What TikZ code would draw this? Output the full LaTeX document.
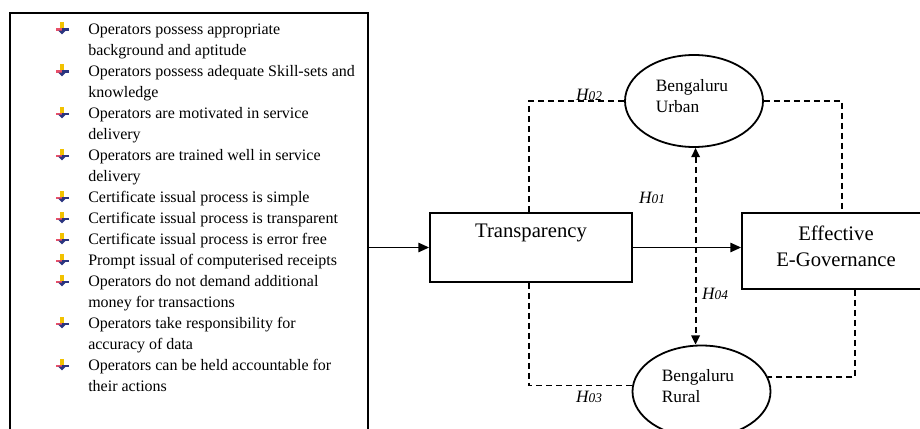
\documentclass[tikz,border=0pt]{standalone}
\usepackage{fontspec}
\setmainfont{Liberation Serif}
\usetikzlibrary{arrows.meta,shapes.geometric}
\definecolor{bulyellow}{HTML}{F2C200}
\definecolor{bulred}{HTML}{E8506A}
\definecolor{bulblue}{HTML}{2B3580}
\tikzset{
  boxline/.style={draw, line width=1.35pt, rectangle, inner sep=0pt},
  ellnode/.style={draw, line width=1.35pt, ellipse, inner sep=0pt},
  listtxt/.style={inner sep=0pt, font=\fontsize{12}{14}\selectfont},
  bigtxt/.style={inner sep=0pt, align=center, font=\fontsize{15.5}{20}\selectfont},
  elltxt/.style={inner sep=0pt, align=left, font=\fontsize{13}{16.3}\selectfont},
  hlab/.style={inner sep=0pt, font=\fontsize{13}{13}\selectfont\itshape},
  solidarrow/.style={line width=1.1pt, -{Triangle[length=8pt,width=7pt]}},
  dashline/.style={line width=1.35pt, dash pattern=on 4.5pt off 3pt},
  bul/.pic={
    \fill[bulyellow] (-1.6,-6) rectangle (1.6,0);
    \fill[bulred] (-6.5,0) rectangle (0,2.2);
    \fill[bulblue] (0,0) rectangle (6.5,2.2);
    \fill[bulblue] (-3.8,2.2) -- (3.8,2.2) -- (0,5.8) -- cycle;
  }
}
\begin{document}
\begin{tikzpicture}[x=0.75pt,y=-0.75pt]
\useasboundingbox (0,0) rectangle (920,428);
\clip (0,0) rectangle (920,428);
% left list box
\node[boxline, minimum width=268.5pt, minimum height=330pt] (leftbox) at (189,233) {};
\foreach \t [count=\i from 0] in {
  Operators possess appropriate,
  background and aptitude,
  Operators possess adequate Skill-sets and,
  knowledge,
  Operators are motivated in service,
  delivery,
  Operators are trained well in service,
  delivery,
  Certificate issual process is simple,
  Certificate issual process is transparent,
  Certificate issual process is error free,
  Prompt issual of computerised receipts,
  Operators do not demand additional,
  money for transactions,
  Operators take responsibility for,
  accuracy of data,
  Operators can be held accountable for,
  their actions}
  \node[listtxt, anchor=base west] (line\i) at (88,{34.5+21*\i}) {\t};
\foreach \i in {0,2,4,6,8,9,10,11,12,14,16}
  \pic at (62,{28.5+21*\i}) {bul};
% boxes
\node[boxline, minimum width=151.5pt, minimum height=51.75pt] (trans) at (531,247.5) {};
\node[bigtxt] (transtxt) at (531,233) {Transparency};
\node[boxline, minimum width=150pt, minimum height=57pt] (eff) at (842,251) {};
\node[bigtxt] (efftxt) at (836,246.3) {Effective\\E-Governance};
% ellipses
\node[ellnode, minimum width=103.5pt, minimum height=69pt] (urban) at (694,101) {};
\node[elltxt] (urbantxt) at (692,96) {Bengaluru\\Urban};
\node[ellnode, minimum width=103.5pt, minimum height=69pt] (rural) at (701.5,391.5) {};
\node[elltxt] (ruraltxt) at (698,386) {Bengaluru\\Rural};
% solid arrows
\draw[solidarrow] (leftbox.east |- trans.west) -- (trans.west);
\draw[solidarrow] (trans.east) -- (trans.east -| eff.west);
% double dashed arrow
\draw[dashline, {Triangle[length=7pt,width=6.5pt]}-{Triangle[length=7pt,width=6.5pt]}]
  ([xshift=1.2pt]urban.south) -- ([xshift=1.2pt]urban.south |- rural.north);
% dashed connectors
\draw[dashline] (urban.west) -| ([xshift=-1.5pt]trans.north);
\draw[dashline] (urban.east) -| (eff.north);
\draw[dashline] ([xshift=-1.5pt]trans.south) |- (rural.175);
\draw[dashline] ([xshift=9.75pt]eff.south) |- (rural.12);
% hypothesis labels
\node[hlab] (h02) at (589,95) {H{\fontsize{10}{10}\selectfont 02}};
\node[hlab] (h01) at (652,198) {H{\fontsize{10}{10}\selectfont 01}};
\node[hlab] (h04) at (715,294) {H{\fontsize{10}{10}\selectfont 04}};
\node[hlab] (h03) at (589,397) {H{\fontsize{10}{10}\selectfont 03}};
\end{tikzpicture}
\end{document}
